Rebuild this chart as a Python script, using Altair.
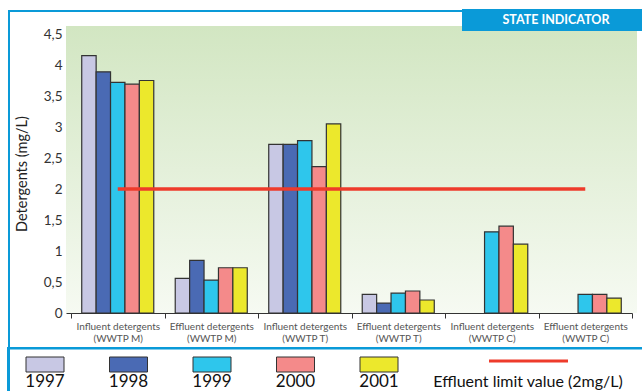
import altair as alt
import pandas as pd

# Detergent concentrations (mg/L) per treatment plant and year
groups = [
    "Influent detergents|(WWTP M)",
    "Effluent detergents|(WWTP M)",
    "Influent detergents|(WWTP T)",
    "Effluent detergents|(WWTP T)",
    "Influent detergents|(WWTP C)",
    "Effluent detergents|(WWTP C)",
]
years = ["1997", "1998", "1999", "2000", "2001"]
v1997 = [4.15, 0.56, 2.72, 0.30, None, None]
v1998 = [3.89, 0.85, 2.72, 0.16, None, None]
v1999 = [3.72, 0.53, 2.78, 0.32, 1.31, 0.30]
v2000 = [3.69, 0.73, 2.36, 0.355, 1.40, 0.30]
v2001 = [3.75, 0.73, 3.05, 0.21, 1.11, 0.24]
year_colors = ["#c8c8e4", "#4a6ab4", "#2ec6ec", "#f48a8a", "#ece82c"]

limit_value = 2.0
limit_label = "Effluent limit value (2mg/L)"
y_ticks = [0.0, 0.5, 1.0, 1.5, 2.0, 2.5, 3.0, 3.5, 4.0, 4.5]

FONT = "Lato"
BLUE = "#0a9ad8"
RED = "#ee3b2b"

W, H = 561, 279

rows = []
for y, vals in zip(years, [v1997, v1998, v1999, v2000, v2001]):
    for g, v in zip(groups, vals):
        if v is not None:
            rows.append({"group": g, "year": y, "value": v})
bars_df = pd.DataFrame(rows)

x_axis = alt.Axis(
    title=None,
    labelExpr="split(datum.label, '|')",
    labelAngle=0,
    labelFont=FONT,
    labelFontSize=10,
    labelColor="#555555",
    labelLineHeight=12.5,
    labelPadding=3,
    tickBand="extent",
    tickSize=5,
    tickColor="#333333",
    domainColor="#333333",
    labelLimit=120,
)
x_scale = alt.Scale(domain=groups, paddingInner=0, paddingOuter=0)
y_scale = alt.Scale(domain=[0, 4.5], nice=False, zero=True)
y_axis = alt.Axis(
    values=y_ticks,
    format="~g",
    title="Detergents (mg/L)",
    titleFont=FONT,
    titleFontSize=14.5,
    titleFontWeight="normal",
    titleColor="#222222",
    titlePadding=14,
    labelExpr="replace(datum.label, '.', ',')",
    labelOverlap=False,
    labelFont=FONT,
    labelFontSize=13.5,
    labelColor="#333333",
    labelPadding=4,
    tickSize=5,
    tickColor="#333333",
    domainColor="#333333",
    grid=False,
)

one = pd.DataFrame({"k": [0]})

# green-to-white backdrop behind the plot area
backdrop = alt.Chart(one).mark_rect(
    color=alt.LinearGradient(
        gradient="linear",
        stops=[
            alt.GradientStop(color="#d2e6c2", offset=0),
            alt.GradientStop(color="#f6faf2", offset=1),
        ],
        x1=0, x2=0, y1=0, y2=1,
    )
).encode(x=alt.value(-5), x2=alt.value(W + 5), y=alt.value(-8), y2=alt.value(H))

bars = alt.Chart(bars_df).mark_bar(stroke="#333333", strokeWidth=1.2).encode(
    x=alt.X("group:N", sort=groups, scale=x_scale, axis=x_axis),
    xOffset=alt.XOffset(
        "year:N",
        scale=alt.Scale(domain=years, paddingInner=0, paddingOuter=0.745),
    ),
    y=alt.Y("value:Q", scale=y_scale, axis=y_axis),
    color=alt.Color("year:N", scale=alt.Scale(domain=years, range=year_colors), legend=None),
)

limit_df = pd.DataFrame({"group": [groups[0], groups[-1]], "value": [limit_value, limit_value]})
limit = alt.Chart(limit_df).mark_line(color=RED, strokeWidth=3.5).encode(
    x=alt.X("group:N", sort=groups, scale=x_scale, axis=x_axis),
    y=alt.Y("value:Q", scale=y_scale, axis=y_axis),
)

# frame lines and header tab
frame_top = alt.Chart(one).mark_rect(color=BLUE).encode(
    x=alt.value(-63), x2=alt.value(392), y=alt.value(-24), y2=alt.value(-22))
frame_left = alt.Chart(one).mark_rect(color=BLUE).encode(
    x=alt.value(-63), x2=alt.value(-61), y=alt.value(-24), y2=alt.value(314))
frame_left_low = alt.Chart(one).mark_rect(color=BLUE).encode(
    x=alt.value(-64), x2=alt.value(-61), y=alt.value(313), y2=alt.value(360))
frame_sep = alt.Chart(one).mark_rect(color=BLUE).encode(
    x=alt.value(-63), x2=alt.value(W + 12), y=alt.value(313), y2=alt.value(315.5))
tab = alt.Chart(one).mark_rect(color=BLUE).encode(
    x=alt.value(391), x2=alt.value(W + 12), y=alt.value(-25), y2=alt.value(-3))
tab_text = alt.Chart(pd.DataFrame({"t": ["STATE INDICATOR"]})).mark_text(
    font=FONT, fontSize=12.5, fontWeight="bold", color="white", align="center", baseline="middle"
).encode(text="t:N", x=alt.value(485), y=alt.value(-14))

# legend: swatches with year underneath, then the limit line
leg_df = pd.DataFrame({"year": years, "i": list(range(len(years)))})
leg_base = alt.Chart(leg_df).transform_calculate(
    cx="-26 + 83.5 * datum.i", x0="-45 + 83.5 * datum.i", x1="-7 + 83.5 * datum.i"
)
leg_sw = leg_base.mark_rect(stroke="#333333", strokeWidth=1).encode(
    x=alt.X("x0:Q", scale=None, axis=None),
    x2=alt.X2("x1:Q"),
    y=alt.value(323),
    y2=alt.value(338),
    color=alt.Color("year:N", scale=alt.Scale(domain=years, range=year_colors), legend=None),
)
leg_tx = leg_base.mark_text(
    font=FONT, fontSize=17, color="#111111", align="center", baseline="middle"
).encode(
    x=alt.X("cx:Q", scale=None, axis=None),
    y=alt.value(348),
    text="year:N",
)
leg_line = alt.Chart(one).mark_rule(color=RED, strokeWidth=3).encode(
    x=alt.value(418), x2=alt.value(497), y=alt.value(327))
leg_line_tx = alt.Chart(pd.DataFrame({"t": [limit_label]})).mark_text(
    font=FONT, fontSize=16, color="#111111", align="center", baseline="middle"
).encode(text="t:N", x=alt.value(457), y=alt.value(348))

chart = alt.layer(
    backdrop, bars, limit,
    frame_top, frame_left, frame_left_low, frame_sep, tab, tab_text,
    leg_sw, leg_tx, leg_line, leg_line_tx,
).properties(
    width=W,
    height=H,
    autosize=alt.AutoSizeParams(type="none"),
    padding={"left": 71, "top": 34, "right": 10, "bottom": 78},
    background="white",
).configure_view(stroke=None)

chart.save("out.html", embed_options={"renderer": "svg", "actions": False})
